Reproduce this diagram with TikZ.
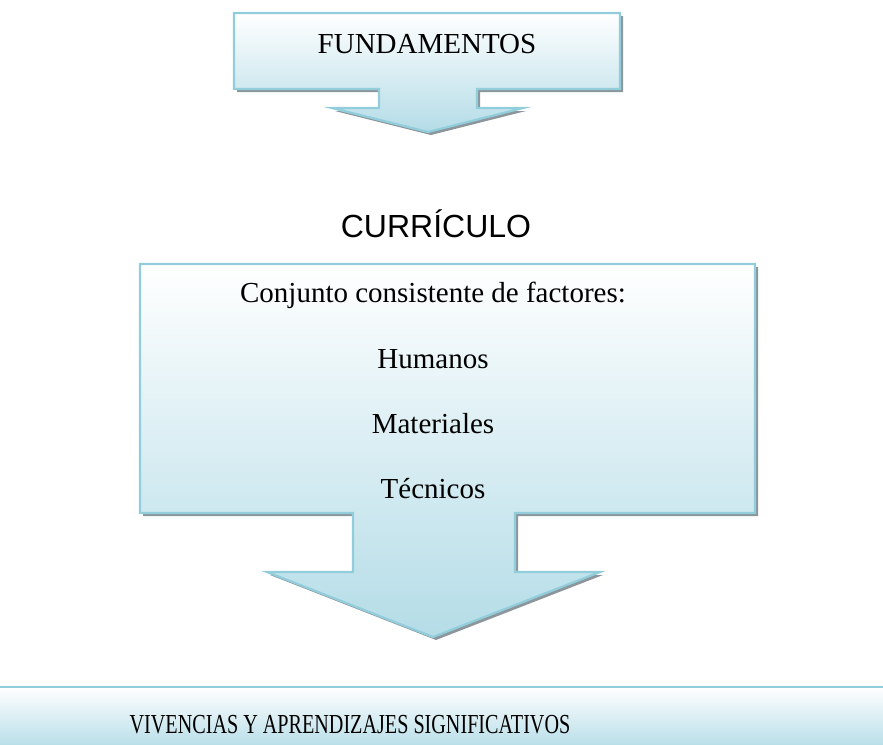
\documentclass[tikz,border=0pt]{standalone}
\usepackage{fontspec}
\setmainfont{Liberation Serif}
\newfontfamily\arialf{Liberation Sans}
\definecolor{bord}{RGB}{146,205,220}
\definecolor{fillb}{RGB}{180,220,231}
\definecolor{shad}{RGB}{140,150,155}
\tikzset{
  callout/.style={draw=bord, line width=2.2pt, line join=miter, top color=white, bottom color=fillb},
  shadowshape/.style={fill=shad},
  serif29/.style={font=\fontsize{29}{35}\selectfont, inner sep=0pt},
}
\begin{document}
\begin{tikzpicture}[x=1pt,y=-1pt]
\useasboundingbox (0,0) rectangle (883,744);
\clip (0,0) rectangle (883,744);
% top callout
\fill[shadowshape, shift={(3,3)}] (234,13) -- (620,13) -- (620,89) -- (477,89) -- (477,108) -- (523,108) -- (428,132) -- (332,108) -- (379,108) -- (379,89) -- (234,89) -- cycle;
\path[callout] (234,13) -- (620,13) -- (620,89) -- (477,89) -- (477,108) -- (523,108) -- (428,132) -- (332,108) -- (379,108) -- (379,89) -- (234,89) -- cycle;
\node[serif29, anchor=base] (fund) at (427,53) {FUNDAMENTOS};
% title
\node[font=\arialf\fontsize{32}{38}\selectfont, inner sep=0pt, anchor=base] (curr) at (436,237) {CURRÍCULO};
% big callout
\fill[shadowshape, shift={(3,3)}] (140,264) -- (755,264) -- (755,513) -- (515,513) -- (515,572) -- (600,572) -- (433,637) -- (267,572) -- (353,572) -- (353,513) -- (140,513) -- cycle;
\path[callout] (140,264) -- (755,264) -- (755,513) -- (515,513) -- (515,572) -- (600,572) -- (433,637) -- (267,572) -- (353,572) -- (353,513) -- (140,513) -- cycle;
\node[serif29, anchor=base] (conj) at (433,302) {Conjunto consistente de factores:};
\node[serif29, anchor=base] (hum) at (433,368) {Humanos};
\node[serif29, anchor=base] (mat) at (433,433) {Materiales};
\node[serif29, anchor=base] (tec) at (433,498) {Técnicos};
% bottom box
\path[callout] (-10,687) -- (893,687) -- (893,750) -- (-10,750) -- cycle;
\node[inner sep=0pt, anchor=base] (viv) at (350,733) {\scalebox{0.733}[1]{\fontsize{27.5}{32}\selectfont VIVENCIAS Y APRENDIZAJES SIGNIFICATIVOS}};
\end{tikzpicture}
\end{document}
